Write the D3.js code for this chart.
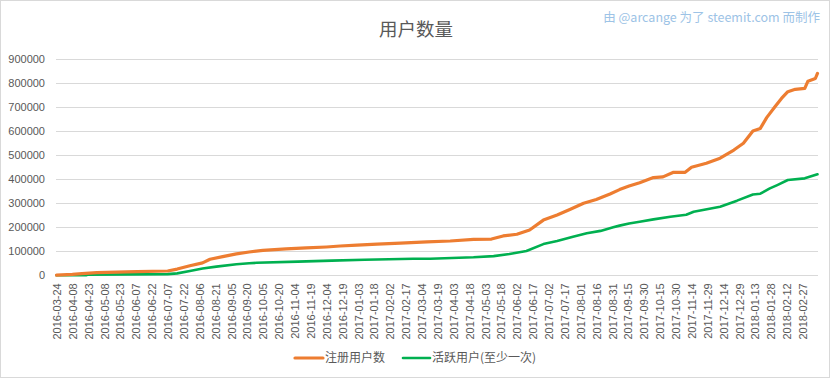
<!DOCTYPE html>
<html><head><meta charset="utf-8">
<script src="https://cdn.jsdelivr.net/npm/d3@7"></script>
<style>
html,body{margin:0;padding:0;background:#fff;}
svg{display:block;font-family:"Liberation Sans",Arial,sans-serif;}
</style></head>
<body><svg id="c" width="832" height="379"></svg>
<script>
const title = "用户数量";
const watermark = "由 @arcange 为了 steemit.com 而制作";
const seriesNames = ["注册用户数", "活跃用户(至少一次)"];
const seriesColors = ["#ED7D31", "#00B050"];

const yTicks = [0,100000,200000,300000,400000,500000,600000,700000,800000,900000];
const xTickLabels = ["2016-03-24","2016-04-08","2016-04-23","2016-05-08","2016-05-23","2016-06-07","2016-06-22","2016-07-07","2016-07-22","2016-08-06","2016-08-21","2016-09-05","2016-09-20","2016-10-05","2016-10-20","2016-11-04","2016-11-19","2016-12-04","2016-12-19","2017-01-03","2017-01-18","2017-02-02","2017-02-17","2017-03-04","2017-03-19","2017-04-03","2017-04-18","2017-05-03","2017-05-18","2017-06-02","2017-06-17","2017-07-02","2017-07-17","2017-08-01","2017-08-16","2017-08-31","2017-09-15","2017-09-30","2017-10-15","2017-10-30","2017-11-14","2017-11-29","2017-12-14","2017-12-29","2018-01-13","2018-01-28","2018-02-12","2018-02-27"];
const firstDay = "2016-03-24";
const lastDay = "2018-03-13";

const regDates = ["2016-03-24","2016-04-08","2016-04-17","2016-05-01","2016-06-08","2016-07-07","2016-07-16","2016-07-28","2016-08-09","2016-08-16","2016-08-28","2016-09-10","2016-09-22","2016-10-05","2016-10-27","2016-11-15","2016-12-04","2016-12-17","2017-01-02","2017-01-21","2017-02-12","2017-03-09","2017-03-31","2017-04-22","2017-05-09","2017-05-20","2017-06-02","2017-06-14","2017-06-27","2017-07-10","2017-07-22","2017-08-04","2017-08-16","2017-08-29","2017-09-07","2017-09-16","2017-09-26","2017-10-09","2017-10-18","2017-10-28","2017-11-08","2017-11-14","2017-11-28","2017-12-11","2017-12-24","2018-01-02","2018-01-11","2018-01-18","2018-01-24","2018-02-01","2018-02-07","2018-02-13","2018-02-20","2018-03-01","2018-03-04","2018-03-11","2018-03-13"];
const regValues = [500,3500,7000,11000,15000,18000,26000,40000,52000,67000,78000,89000,97000,104000,110000,114000,118000,122000,126000,130000,134000,139000,143000,150000,151000,164000,171000,189000,230000,251000,274000,300000,316000,339000,357000,372000,386000,407000,410000,429000,429000,450000,467000,488000,522000,550000,601000,612000,657000,703000,737000,765000,775000,779000,809000,820000,841000];

const actDates = ["2016-03-24","2016-04-21","2016-04-23","2016-07-07","2016-07-16","2016-07-28","2016-08-09","2016-08-22","2016-09-10","2016-09-22","2016-09-29","2016-11-07","2016-12-09","2017-01-09","2017-02-24","2017-03-12","2017-04-22","2017-05-11","2017-05-26","2017-06-11","2017-06-27","2017-07-10","2017-07-25","2017-08-07","2017-08-20","2017-09-01","2017-09-07","2017-09-16","2017-09-26","2017-10-09","2017-10-25","2017-11-09","2017-11-16","2017-12-11","2017-12-27","2018-01-11","2018-01-18","2018-01-27","2018-02-03","2018-02-13","2018-03-01","2018-03-13"];
const actValues = [0,500,3000,5000,8000,18000,28000,36000,46000,50000,52000,57000,61000,65000,69000,69000,75000,80000,89000,101000,130000,143000,161000,175000,185000,200000,207000,216000,223000,233000,244000,252000,265000,286000,311000,337000,340000,362000,376000,397000,404000,421000];

const svg = d3.select("#c");
const W = 832, H = 379;
const parse = d3.utcParse("%Y-%m-%d");
const half = 12*3600*1000;

// frame
svg.append("rect").attr("x",0.5).attr("y",0.5).attr("width",829).attr("height",377)
  .attr("fill","#fff").attr("stroke","#d9d9d9");

const plotL = 56, plotR = 818, plotT = 59.3, plotB = 275.3;
const x = d3.scaleUtc()
  .domain([new Date(+parse(firstDay)-half), new Date(+parse(lastDay)+half)])
  .range([plotL, plotR]);
const y = d3.scaleLinear().domain([0,900000]).range([plotB, plotT]);

// gridlines
svg.append("g").selectAll("line").data(yTicks).join("line")
  .attr("x1",plotL).attr("x2",plotR)
  .attr("y1",d=>Math.round(y(d))+0.5).attr("y2",d=>Math.round(y(d))+0.5)
  .attr("stroke","#d9d9d9").attr("stroke-width",1);

// y axis labels
const yAxis = d3.axisLeft(y).tickValues(yTicks).tickSize(0).tickPadding(0).tickFormat(d3.format("d"));
const gy = svg.append("g").attr("transform",`translate(45,0)`).call(yAxis);
gy.select(".domain").remove();
gy.selectAll("text").attr("fill","#595959").style("font-size","11px").style("font-family","Liberation Sans, Arial, sans-serif");

// x axis labels
const xDates = xTickLabels.map(s=>parse(s));
const xAxis = d3.axisBottom(x).tickValues(xDates).tickSize(0).tickFormat(d3.utcFormat("%Y-%m-%d"));
const gx = svg.append("g").attr("transform",`translate(0,${plotB})`).call(xAxis);
gx.select(".domain").remove();
gx.selectAll("text")
  .attr("fill","#595959").style("font-size","11px").style("font-family","Liberation Sans, Arial, sans-serif")
  .attr("text-anchor","end").attr("dy","0.35em").attr("y",0).attr("x",0)
  .attr("transform","translate(0,8) rotate(-90)");

// lines
const line = d3.line().x(d=>x(d[0])).y(d=>y(d[1])).curve(d3.curveLinear);
const regData = regDates.map((s,i)=>[parse(s), regValues[i]]);
const actData = actDates.map((s,i)=>[parse(s), actValues[i]]);
svg.append("path").datum(actData).attr("d",line).attr("fill","none")
  .attr("stroke",seriesColors[1]).attr("stroke-width",2.6).attr("stroke-linejoin","round").attr("stroke-linecap","round");
svg.append("path").datum(regData).attr("d",line).attr("fill","none")
  .attr("stroke",seriesColors[0]).attr("stroke-width",3.2).attr("stroke-linejoin","round").attr("stroke-linecap","round");

// title
svg.append("text").attr("x",416).attr("y",36).attr("text-anchor","middle")
  .attr("fill","#595959").style("font-size","18.5px").style("font-family","'Noto Sans CJK SC', sans-serif")
  .text(title);

// watermark
svg.append("text").attr("x",820).attr("y",22).attr("text-anchor","end")
  .attr("fill","#9DC3E6").style("font-size","12.5px").style("font-family","'Noto Sans CJK SC', sans-serif")
  .text(watermark);

// legend
const legY = 358;
const leg = [{x1:295,x2:323,tx:325},{x1:403,x2:430,tx:432}];
leg.forEach((l,i)=>{
  svg.append("line").attr("x1",l.x1).attr("x2",l.x2).attr("y1",legY).attr("y2",legY)
    .attr("stroke",seriesColors[i]).attr("stroke-width",i===0?3.2:2.6).attr("stroke-linecap","round");
  svg.append("text").attr("x",l.tx).attr("y",legY).attr("dy","0.35em")
    .attr("fill","#595959").style("font-size","12px").style("font-family","'Noto Sans CJK SC', sans-serif")
    .text(seriesNames[i]);
});
</script></body></html>
